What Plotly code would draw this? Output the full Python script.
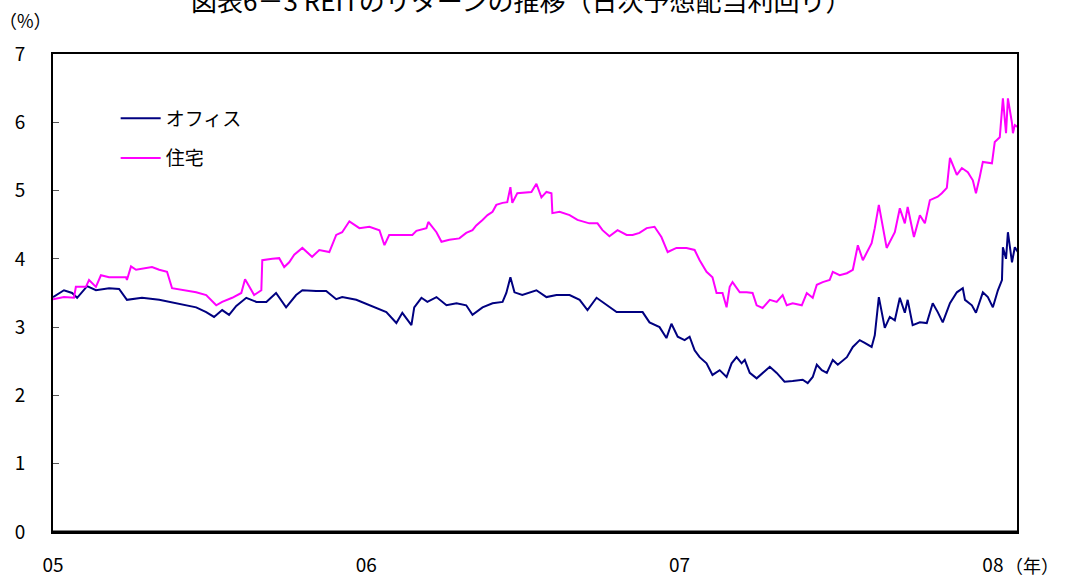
import plotly.graph_objects as go

# fractional year (2005.0 = Jan 2005) and yield (%)
office_t = [2005.000, 2005.035, 2005.061, 2005.077, 2005.109, 2005.137, 2005.179, 2005.211, 2005.236, 2005.284,
            2005.339, 2005.393, 2005.457, 2005.489, 2005.514, 2005.540, 2005.562, 2005.585, 2005.617, 2005.649,
            2005.681, 2005.712, 2005.744, 2005.776, 2005.796, 2005.840, 2005.872, 2005.904, 2005.923, 2005.968,
            2006.000, 2006.032, 2006.064, 2006.096, 2006.115, 2006.144, 2006.153, 2006.176, 2006.195, 2006.224,
            2006.256, 2006.288, 2006.319, 2006.339, 2006.371, 2006.403, 2006.435, 2006.447, 2006.460, 2006.473,
            2006.498, 2006.543, 2006.575, 2006.607, 2006.649, 2006.681, 2006.706, 2006.735, 2006.767, 2006.799,
            2006.831, 2006.882, 2006.904, 2006.936, 2006.958, 2006.974, 2006.994, 2007.016, 2007.032, 2007.048,
            2007.064, 2007.086, 2007.105, 2007.128, 2007.150, 2007.166, 2007.182, 2007.198, 2007.208, 2007.224,
            2007.246, 2007.265, 2007.288, 2007.310, 2007.335, 2007.361, 2007.393, 2007.409, 2007.425, 2007.438,
            2007.454, 2007.470, 2007.489, 2007.505, 2007.534, 2007.553, 2007.575, 2007.591, 2007.613, 2007.623,
            2007.636, 2007.655, 2007.671, 2007.687, 2007.703, 2007.719, 2007.728, 2007.744, 2007.767, 2007.789,
            2007.808, 2007.824, 2007.840, 2007.863, 2007.885, 2007.904, 2007.911, 2007.933, 2007.946, 2007.968,
            2007.984, 2008.000, 2008.016, 2008.029, 2008.032, 2008.042, 2008.048, 2008.061, 2008.070, 2008.080]
office_v = [3.44, 3.54, 3.50, 3.43, 3.60, 3.54, 3.57, 3.56, 3.40, 3.43,
            3.40, 3.35, 3.29, 3.22, 3.15, 3.25, 3.18, 3.31, 3.43, 3.37,
            3.37, 3.50, 3.29, 3.47, 3.54, 3.53, 3.53, 3.41, 3.44, 3.40,
            3.34, 3.29, 3.22, 3.06, 3.21, 3.03, 3.29, 3.43, 3.37, 3.44,
            3.32, 3.35, 3.32, 3.18, 3.29, 3.35, 3.37, 3.50, 3.73, 3.51,
            3.47, 3.54, 3.44, 3.47, 3.47, 3.40, 3.25, 3.43, 3.32, 3.22,
            3.22, 3.22, 3.07, 3.00, 2.84, 3.05, 2.86, 2.81, 2.86, 2.66,
            2.56, 2.47, 2.30, 2.37, 2.27, 2.47, 2.56, 2.47, 2.52, 2.33,
            2.25, 2.33, 2.42, 2.33, 2.20, 2.21, 2.23, 2.18, 2.27, 2.45,
            2.37, 2.33, 2.52, 2.45, 2.56, 2.71, 2.81, 2.77, 2.71, 2.88,
            3.44, 2.99, 3.15, 3.10, 3.43, 3.21, 3.40, 3.03, 3.07, 3.06,
            3.35, 3.22, 3.07, 3.35, 3.51, 3.57, 3.40, 3.32, 3.21, 3.51,
            3.44, 3.29, 3.54, 3.69, 4.17, 4.00, 4.39, 3.95, 4.17, 4.10]

resid_t = [2005.000, 2005.035, 2005.067, 2005.073, 2005.105, 2005.115, 2005.137, 2005.153, 2005.179, 2005.233,
           2005.236, 2005.249, 2005.265, 2005.316, 2005.339, 2005.364, 2005.380, 2005.425, 2005.457, 2005.489,
           2005.521, 2005.540, 2005.572, 2005.601, 2005.613, 2005.626, 2005.642, 2005.665, 2005.668, 2005.700,
           2005.722, 2005.738, 2005.754, 2005.770, 2005.796, 2005.827, 2005.850, 2005.882, 2005.904, 2005.923,
           2005.946, 2005.978, 2006.010, 2006.042, 2006.058, 2006.073, 2006.105, 2006.147, 2006.160, 2006.192,
           2006.198, 2006.224, 2006.240, 2006.265, 2006.297, 2006.319, 2006.339, 2006.351, 2006.371, 2006.387,
           2006.403, 2006.415, 2006.435, 2006.450, 2006.460, 2006.466, 2006.482, 2006.511, 2006.527, 2006.543,
           2006.559, 2006.575, 2006.591, 2006.594, 2006.617, 2006.649, 2006.674, 2006.712, 2006.738, 2006.754,
           2006.776, 2006.802, 2006.831, 2006.850, 2006.872, 2006.895, 2006.920, 2006.942, 2006.962, 2006.990,
           2007.022, 2007.048, 2007.064, 2007.086, 2007.105, 2007.118, 2007.137, 2007.150, 2007.160, 2007.169,
           2007.192, 2007.214, 2007.233, 2007.246, 2007.265, 2007.288, 2007.310, 2007.329, 2007.342, 2007.361,
           2007.390, 2007.406, 2007.425, 2007.438, 2007.457, 2007.479, 2007.489, 2007.511, 2007.534, 2007.553,
           2007.569, 2007.585, 2007.613, 2007.623, 2007.636, 2007.661, 2007.687, 2007.703, 2007.719, 2007.728,
           2007.748, 2007.767, 2007.783, 2007.799, 2007.824, 2007.837, 2007.853, 2007.863, 2007.885, 2007.901,
           2007.920, 2007.936, 2007.946, 2007.958, 2007.968, 2007.997, 2008.006, 2008.022, 2008.032, 2008.042,
           2008.048, 2008.061, 2008.064, 2008.070, 2008.080]
resid_v = [3.41, 3.44, 3.43, 3.59, 3.59, 3.69, 3.59, 3.76, 3.73, 3.73,
           3.69, 3.89, 3.84, 3.88, 3.84, 3.81, 3.57, 3.53, 3.51, 3.47,
           3.32, 3.37, 3.43, 3.50, 3.70, 3.60, 3.47, 3.54, 3.98, 4.00,
           4.01, 3.88, 3.95, 4.06, 4.16, 4.03, 4.13, 4.10, 4.35, 4.39,
           4.55, 4.45, 4.47, 4.42, 4.20, 4.35, 4.35, 4.35, 4.41, 4.45,
           4.54, 4.39, 4.25, 4.28, 4.30, 4.38, 4.42, 4.49, 4.57, 4.64,
           4.69, 4.79, 4.82, 4.83, 5.05, 4.82, 4.96, 4.98, 4.98, 5.10,
           4.90, 4.98, 4.96, 4.67, 4.69, 4.64, 4.57, 4.52, 4.52, 4.42,
           4.33, 4.42, 4.35, 4.35, 4.38, 4.45, 4.47, 4.32, 4.10, 4.16,
           4.16, 4.13, 3.98, 3.81, 3.73, 3.50, 3.50, 3.29, 3.59, 3.66,
           3.51, 3.51, 3.50, 3.32, 3.28, 3.40, 3.37, 3.47, 3.32, 3.35,
           3.32, 3.50, 3.43, 3.62, 3.66, 3.69, 3.81, 3.76, 3.79, 3.84,
           4.20, 3.98, 4.23, 4.45, 4.79, 4.16, 4.39, 4.74, 4.52, 4.76,
           4.32, 4.64, 4.52, 4.86, 4.91, 4.96, 5.04, 5.48, 5.23, 5.33,
           5.27, 5.15, 4.96, 5.20, 5.42, 5.40, 5.71, 5.78, 6.35, 5.84,
           6.35, 5.99, 5.84, 5.96, 5.93]

x_ticks = [2005, 2006, 2007, 2008]
x_tick_labels = ["05", "06", "07", "08"]
y_ticks = [0, 1, 2, 3, 4, 5, 6, 7]

FONT = "Noto Sans CJK JP"

fig = go.Figure()
fig.add_trace(go.Scatter(x=office_t, y=office_v, mode="lines", name="オフィス",
                         line=dict(color="#000080", width=2), legendgroup="a"))
fig.add_trace(go.Scatter(x=resid_t, y=resid_v, mode="lines", name="住宅",
                         line=dict(color="#FF00FF", width=2), legendgroup="b"))

fig.update_layout(
    width=1067, height=583,
    margin=dict(l=53, r=50, t=54, b=51, autoexpand=False),
    paper_bgcolor="white", plot_bgcolor="white",
    font=dict(family=FONT, size=18, color="black"),
    showlegend=True,
    legend=dict(x=0.065, y=0.905, xanchor="left", yanchor="top",
                bgcolor="rgba(0,0,0,0)", font=dict(size=19, family=FONT),
                tracegroupgap=12, itemwidth=40),
    xaxis=dict(range=[2005.0, 2008.077], tickvals=x_ticks, ticktext=x_tick_labels,
               showgrid=False, zeroline=False, showline=True, linecolor="black",
               linewidth=2, mirror=True, ticks="", ticklabelstandoff=15, automargin=False,
               tickfont=dict(size=19, family=FONT)),
    yaxis=dict(range=[0, 7], tickvals=y_ticks, showgrid=False, zeroline=False,
               showline=True, linecolor="black", linewidth=2, mirror=True, automargin=False,
               ticks="inside", ticklen=6, tickcolor="#555555", ticklabelstandoff=22,
               tickfont=dict(size=19, family=FONT)),
)

fig.add_shape(type="line", xref="paper", yref="paper", x0=0, x1=1, y0=0, y1=0,
              line=dict(color="black", width=3))

fig.add_annotation(text="図表6－3 REITのリターンの推移（日次予想配当利回り）",
                   xref="paper", yref="paper", x=0.485, y=1.113,
                   xanchor="center", yanchor="middle", showarrow=False,
                   font=dict(size=26, family=FONT))
fig.add_annotation(text="（%）", xref="paper", yref="paper", x=-0.058, y=1.072,
                   xanchor="left", yanchor="middle", showarrow=False,
                   font=dict(size=18, family=FONT))
fig.add_annotation(text="（年）", xref="paper", yref="paper", x=0.985, y=-0.07,
                   xanchor="left", yanchor="middle", showarrow=False,
                   font=dict(size=18, family=FONT))

fig.write_html("out.html")
